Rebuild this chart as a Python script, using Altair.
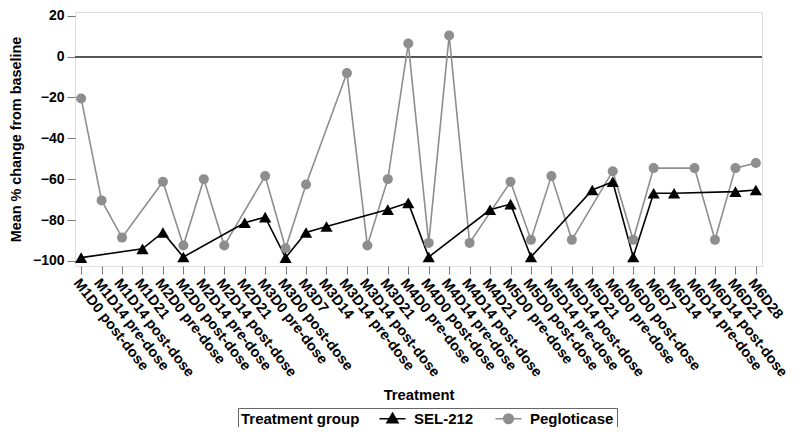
import altair as alt
import pandas as pd

categories = [
    "M1D0 post-dose", "M1D14 pre-dose", "M1D14 post-dose", "M1D21",
    "M2D0 pre-dose", "M2D0 post-dose", "M2D14 pre-dose", "M2D14 post-dose", "M2D21",
    "M3D0 pre-dose", "M3D0 post-dose", "M3D7", "M3D14", "M3D14 pre-dose", "M3D14 post-dose", "M3D21",
    "M4D0 pre-dose", "M4D0 post-dose", "M4D14 pre-dose", "M4D14 post-dose", "M4D21",
    "M5D0 pre-dose", "M5D0 post-dose", "M5D14 pre-dose", "M5D14 post-dose", "M5D21",
    "M6D0 pre-dose", "M6D0 post-dose", "M6D7", "M6D14", "M6D14 pre-dose", "M6D14 post-dose",
    "M6D21", "M6D28",
]

# None = no value at that visit
sel212 = [-98.4, None, None, -94.1, -86.1, -98.1, None, None, -81.3,
          -78.6, -98.4, -86.1, -83.2, None, None, -74.9,
          -71.6, -98.1, None, None, -75.0,
          -72.2, -98.1, None, None, -65.3,
          -61.3, -98.1, -66.9, -66.9, None, None,
          -66.1, -65.3]
pegloticase = [-20.5, -70.4, -88.6, None, -61.3, -92.5, -60.0, -92.5, None,
               -58.5, -93.8, -62.6, None, -8.1, -92.5, -60.0,
               6.4, -91.2, 10.3, -91.2, None,
               -61.3, -89.7, -58.5, -89.7, None,
               -56.1, -89.7, -54.6, None, -54.6, -89.7,
               -54.6, -52.1]

groups = ["SEL-212", "Pegloticase"]
colors = ["#000000", "#8e8e8e"]
legend_paths = [
    "M-2.6,0H2.6M0,-1.1L1.1,0.8H-1.1Z",
    "M-2.6,0H2.6M-0.95,0A0.95,0.95,0,1,1,0.95,0A0.95,0.95,0,1,1,-0.95,0Z",
]

rows = []
for cat, a, b in zip(categories, sel212, pegloticase):
    if a is not None:
        rows.append({"visit": cat, "group": "SEL-212", "value": a})
    if b is not None:
        rows.append({"visit": cat, "group": "Pegloticase", "value": b})
df = pd.DataFrame(rows)

FONT = "Liberation Sans"

x_enc = alt.X("visit:N", sort=categories, scale=alt.Scale(padding=0.3),
              axis=alt.Axis(title="Treatment", labelAngle=52, labelAlign="left",
                            labelBaseline="top", labelFontSize=14.5,
                            labelFontWeight="bold", labelPadding=2,
                            titleFontSize=14.8, titleFontWeight="bold",
                            titlePadding=9, tickSize=8, tickColor="#777",
                            domain=False, labelColor="#000", titleColor="#000",
                            labelOverlap=False, labelBound=False))
y_enc = alt.Y("value:Q", scale=alt.Scale(domain=[-102.5, 21.8], nice=False, zero=False),
              axis=alt.Axis(title="Mean % change from baseline", values=list(range(-100, 21, 20)),
                            labelFontSize=14, labelFontWeight="bold", labelPadding=3,
                            titleFontSize=14.4, titleFontWeight="bold", titlePadding=9,
                            tickSize=8, tickColor="#777", domain=False, grid=False,
                            labelColor="#000", titleColor="#000"))

base = alt.Chart(df)

zero_rule = base.mark_rule(color="#555", strokeWidth=1).encode(y=alt.datum(0))

peg = base.transform_filter(alt.datum.group == "Pegloticase")
sel = base.transform_filter(alt.datum.group == "SEL-212")

peg_line = peg.mark_line(strokeWidth=1.6, color=colors[1]).encode(x=x_enc, y=y_enc)
peg_pts = peg.mark_point(filled=True, opacity=1, shape="circle", size=100,
                         color=colors[1]).encode(x=x_enc, y=y_enc)
sel_line = sel.mark_line(strokeWidth=1.6, color=colors[0]).encode(x=x_enc, y=y_enc)
sel_pts = sel.mark_point(filled=True, opacity=1, shape="triangle-up", size=150,
                         color=colors[0]).encode(x=x_enc, y=y_enc)

legend = alt.Legend(title="Treatment group", orient="none", legendX=163, legendY=396,
                    direction="horizontal", titleOrient="left", titleFontSize=15,
                    titleFontWeight="bold", titleColor="#000", labelFontSize=15,
                    labelFontWeight="bold", labelColor="#000", symbolSize=100,
                    symbolStrokeWidth=1.6, symbolOffset=8, labelOffset=14,
                    symbolOpacity=1,
                    strokeColor="#666", padding=3, columnPadding=18,
                    titlePadding=17)

# invisible marks that only carry the legend
legend_layer = base.mark_point(filled=True, opacity=0).encode(
    x=x_enc, y=y_enc,
    fill=alt.Fill("group:N", scale=alt.Scale(domain=groups, range=colors), legend=legend),
    stroke=alt.Stroke("group:N", scale=alt.Scale(domain=groups, range=colors), legend=legend),
    shape=alt.Shape("group:N", scale=alt.Scale(domain=groups, range=legend_paths), legend=legend),
)

chart = alt.layer(zero_rule, peg_line, sel_line, peg_pts, sel_pts, legend_layer).properties(
    width=687, height=254,
    autosize=alt.AutoSizeParams(type="none"),
    padding={"left": 67, "top": 4, "right": 30, "bottom": 161},
).configure_view(stroke="#777", strokeWidth=1.2).configure(font=FONT)

chart.save("out.html", embed_options={"renderer": "svg", "actions": False})
